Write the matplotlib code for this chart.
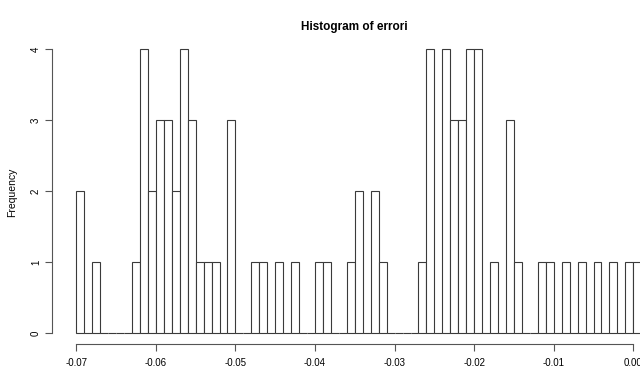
import numpy as np
import matplotlib
matplotlib.use("Agg")
import matplotlib.pyplot as plt

# Istogramma degli errori (larghezza classe 0.001)
bin_start = -0.070
bin_width = 0.001
conteggi = [2, 0, 1, 0, 0, 0, 0, 1, 4, 2,
            3, 3, 2, 4, 3, 1, 1, 1, 0, 3,
            0, 0, 1, 1, 0, 1, 0, 1, 0, 0,
            1, 1, 0, 0, 1, 2, 0, 2, 1, 0,
            0, 0, 0, 1, 4, 0, 4, 3, 3, 4,
            4, 0, 1, 0, 3, 1, 0, 0, 1, 1,
            0, 1, 0, 1, 0, 1, 0, 1, 0, 1,
            1]
x_ticks = [-0.07, -0.06, -0.05, -0.04, -0.03, -0.02, -0.01, 0.00]
x_labels = ["-0.07", "-0.06", "-0.05", "-0.04", "-0.03", "-0.02", "-0.01", "0.00"]
y_ticks = [0, 1, 2, 3, 4]

plt.rcParams['font.family'] = ['Liberation Sans', 'DejaVu Sans']

fig = plt.figure(figsize=(6.4, 3.69), dpi=100)
ax = fig.add_axes([52 / 640, (369 - 344.3) / 369, 588 / 640, (344.3 - 40) / 369])

bordi = bin_start + bin_width * np.arange(len(conteggi))
ax.bar(bordi, conteggi, width=bin_width, align='edge',
       facecolor='white', edgecolor='#3a3a3a', linewidth=0.8)

ax.set_xlim(-0.073054, 0.000842)
ax.set_ylim(-0.155, 4.131)

for s in ['top', 'right']:
    ax.spines[s].set_visible(False)
ax.spines['left'].set_bounds(0, 4)
ax.spines['bottom'].set_bounds(-0.07, 0.0)
for s in ['left', 'bottom']:
    ax.spines[s].set_color('#555555')
    ax.spines[s].set_linewidth(0.8)

ax.set_xticks(x_ticks)
ax.set_xticklabels(x_labels)
ax.set_yticks(y_ticks)
ax.set_yticklabels([str(v) for v in y_ticks], rotation=90, va='center')
ax.tick_params(axis='both', direction='out', length=5, width=0.8,
               color='#555555', labelsize=7)
ax.tick_params(axis='x', pad=5)
ax.tick_params(axis='y', pad=3)

ax.set_ylabel('Frequency', fontsize=7.5, labelpad=10)
fig.text(354 / 640, 1 - 27 / 369, 'Histogram of errori', ha='center', va='center',
         fontsize=8.5, fontweight='bold')

fig.savefig('out.png', dpi=100)
